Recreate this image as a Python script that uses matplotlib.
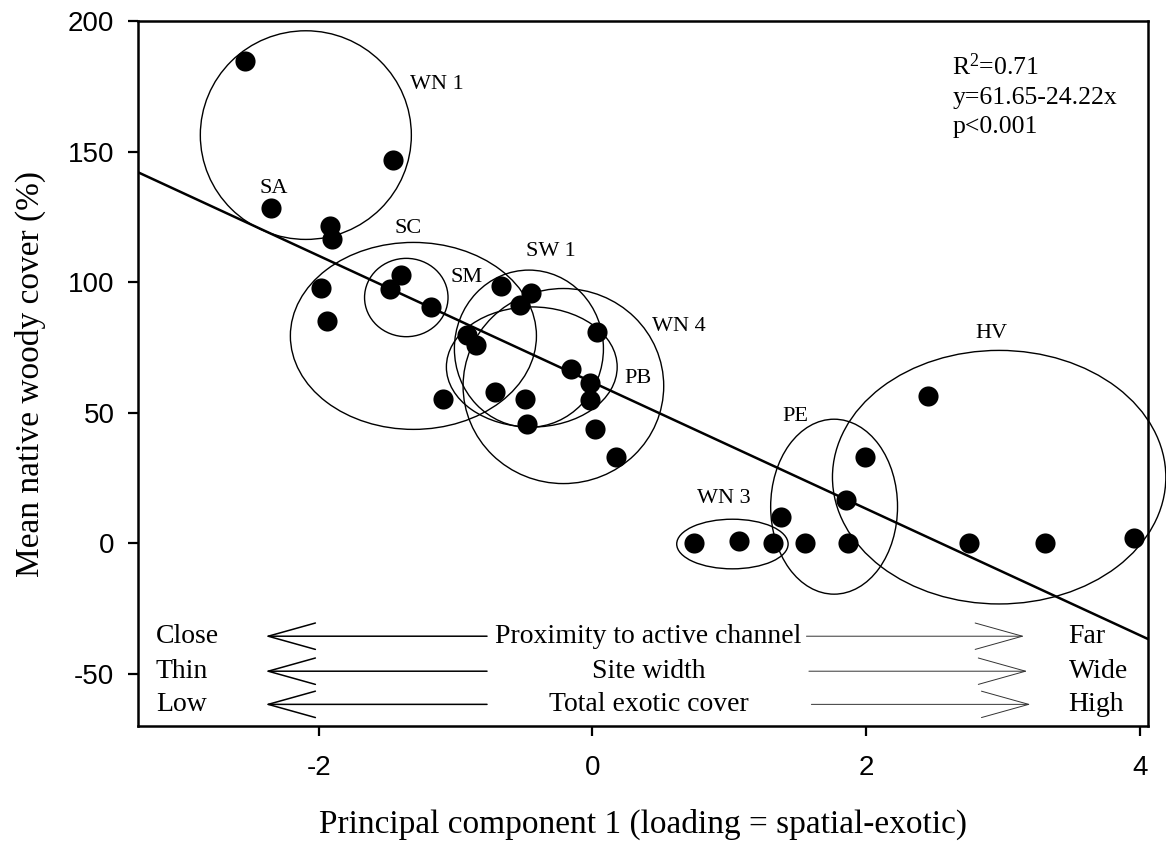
import numpy as np
import matplotlib
matplotlib.use("Agg")
import matplotlib.pyplot as plt
from matplotlib.patches import Ellipse

plt.rcParams['font.family'] = ['Liberation Serif', 'DejaVu Serif']
plt.rcParams['mathtext.fontset'] = 'custom'
plt.rcParams['mathtext.rm'] = 'Liberation Serif'
plt.rcParams['mathtext.it'] = 'Liberation Serif'
plt.rcParams['axes.unicode_minus'] = False

# site scores: PC1 vs native woody cover
pc1 = [-2.54, -1.46, -2.35, -1.92, -1.90, -1.98, -1.94, -1.40, -1.48, -1.18,
       -0.67, -0.45, -0.53, -0.92, -0.85, 0.03, -0.16, -0.02, -0.015, -1.09,
       -0.71, -0.49, -0.48, 0.02, 0.17, 2.45, 1.99, 1.85, 1.38, 0.74,
       1.07, 1.32, 1.55, 1.87, 2.75, 3.31, 3.96]
woody = [184.5, 146.7, 128.3, 121.5, 116.5, 97.7, 85.1, 102.7, 97.3, 90.4,
         98.5, 95.8, 91.2, 79.7, 76.1, 81.0, 66.9, 61.4, 54.8, 55.1,
         58.0, 55.1, 45.5, 43.6, 33.1, 56.5, 33.1, 16.6, 10.2, 0.0,
         1.0, 0.0, 0.0, 0.0, 0.0, 0.0, 2.1]

# regression
intercept = 61.65
slope = -24.22
r2 = 0.71

# site groups: outline centre / size and label position
groups = ['WN 1', 'SA', 'SC', 'SM', 'SW 1', 'WN 4', 'PB', 'WN 3', 'PE', 'HV']
grp_cx = [-2.094, None, -1.308, -1.36, -0.464, -0.212, -0.443, 1.023, 1.766, 2.972]
grp_cy = [156.3, None, 79.4, 94.1, 74.5, 60.2, 67.5, -0.3, 14.0, 25.3]
grp_w = [1.542, None, 1.798, 0.61, 1.089, 1.466, 1.248, 0.814, 0.927, 2.436]
grp_h = [79.9, None, 71.6, 30.0, 60.2, 74.7, 46.0, 19.0, 67.0, 97.1]
lab_x = [-1.133, -2.33, -1.343, -0.916, -0.307, 0.631, 0.331, 0.959, 1.484, 2.919]
lab_y = [175.5, 135.9, 120.6, 101.8, 111.6, 82.9, 63.1, 17.2, 48.4, 80.2]

# gradient descriptions under the points
grad_left = ['Close', 'Thin', 'Low']
grad_mid = ['Proximity to active channel', 'Site width', 'Total exotic cover']
grad_right = ['Far', 'Wide', 'High']
grad_y = [-35.6, -49.0, -61.7]

xlim = (-3.32, 4.06)
ylim = (-70, 200)

fig = plt.figure(figsize=(11.66, 8.46), dpi=100)
ax = fig.add_axes([0.1184, 0.1418, 0.8662, 0.8334])

ax.scatter(pc1, woody, s=210, color='black', zorder=3, linewidths=0)

xx = np.linspace(xlim[0], xlim[1], 50)
ax.plot(xx, intercept + slope * xx, color='black', lw=1.8, zorder=2)

for i, name in enumerate(groups):
    if grp_cx[i] is not None:
        ax.add_patch(Ellipse((grp_cx[i], grp_cy[i]), grp_w[i], grp_h[i],
                             fill=False, edgecolor='black', lw=1.0, clip_on=False))
    ax.text(lab_x[i], lab_y[i], name, fontsize=16, ha='center', va='center')

ax.text(2.63, 182.4, 'R$^{2}$=%.2f' % r2, fontsize=18.5, va='center')
ax.text(2.63, 170.5, 'y=%.2f%.2fx' % (intercept, slope), fontsize=18.5, va='center')
ax.text(2.63, 159.4, 'p<0.001', fontsize=18.5, va='center')

for i in range(3):
    y = grad_y[i]
    ax.text(-3.19, y, grad_left[i], fontsize=20, va='center', ha='left')
    ax.text(0.41, y, grad_mid[i], fontsize=20, va='center', ha='center')
    ax.text(3.48, y, grad_right[i], fontsize=20, va='center', ha='left')
    ax.annotate('', xy=(-2.39, y), xytext=(-0.77, y),
                arrowprops=dict(arrowstyle='->,head_length=3.4,head_width=0.95',
                                mutation_scale=10, lw=1.1, color='black',
                                shrinkA=0, shrinkB=0))
    ax.annotate('', xy=(3.155 + 0.023 * i, y), xytext=(1.564 + 0.018 * i, y),
                arrowprops=dict(arrowstyle='->,head_length=3.4,head_width=0.95',
                                mutation_scale=10, lw=0.7, color='#333333',
                                shrinkA=0, shrinkB=0))

ax.set_xlim(xlim)
ax.set_ylim(ylim)
ax.set_xticks([-2, 0, 2, 4])
ax.set_yticks([-50, 0, 50, 100, 150, 200])
ax.tick_params(direction='out', length=7, width=1.6, labelsize=20)
ax.tick_params(axis='x', pad=14)
ax.tick_params(axis='y', pad=10)
for lab in ax.get_xticklabels() + ax.get_yticklabels():
    lab.set_family(['Liberation Sans', 'DejaVu Sans'])
for sp in ax.spines.values():
    sp.set_linewidth(1.8)

ax.set_xlabel('Principal component 1 (loading = spatial-exotic)', fontsize=24, labelpad=20)
ax.set_ylabel('Mean native woody cover (%)', fontsize=24, labelpad=16)

fig.savefig('out.png', dpi=100)
